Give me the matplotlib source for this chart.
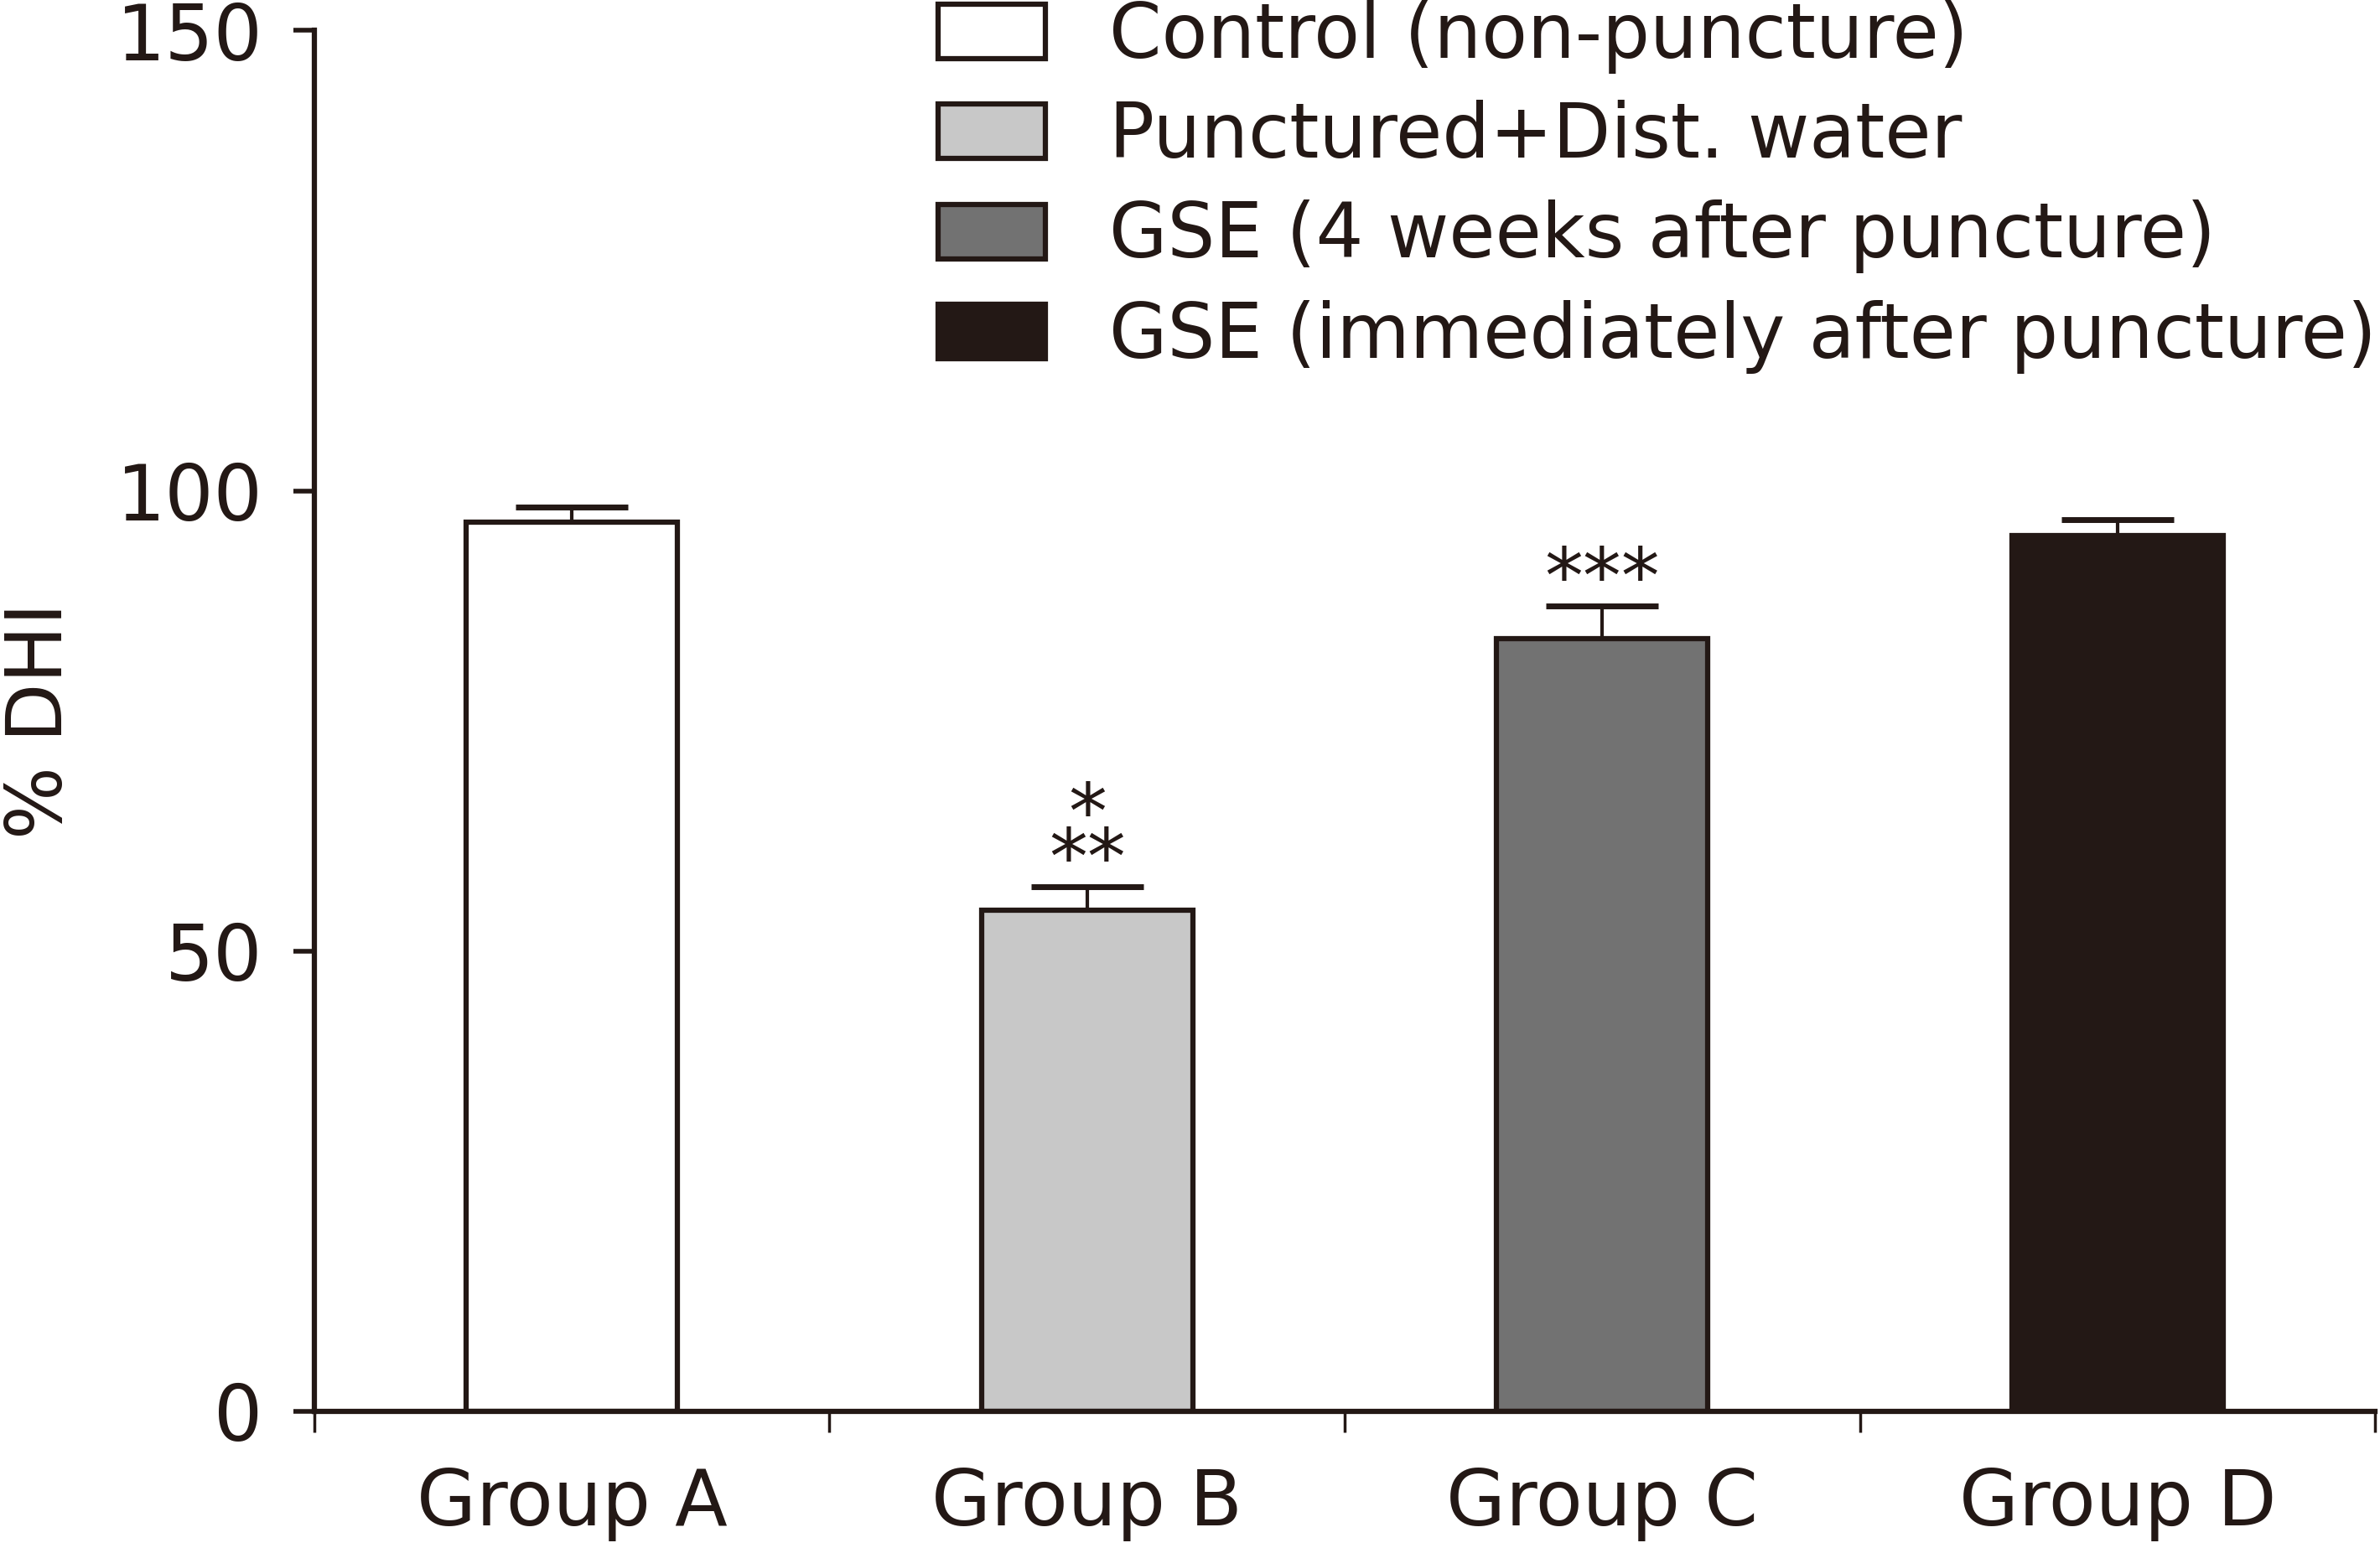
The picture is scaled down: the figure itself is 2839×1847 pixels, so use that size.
import matplotlib
matplotlib.use("Agg")
import matplotlib.pyplot as plt
from matplotlib.patches import Patch

# data
groups = ["Group A", "Group B", "Group C", "Group D"]
dhi_mean = [96.6, 54.4, 83.9, 95.1]
dhi_sem = [1.6, 2.6, 3.6, 1.8]
legend_labels = ["Control (non-puncture)", "Punctured+Dist. water",
                 "GSE (4 weeks after puncture)", "GSE (immediately after puncture)"]
stars = ["", "*\n**", "***", ""]

ink = "#231815"
fills = ["#ffffff", "#c8c8c8", "#727272", ink]

plt.rcParams['font.family'] = ['DejaVu Sans']
fs = 66

fig = plt.figure(figsize=(28.39, 18.47), dpi=100)
ax = fig.add_axes([0.132, 0.0883, 0.866, 0.892])

x = list(range(len(groups)))
ax.bar(x, dhi_mean, width=0.41, color=fills, edgecolor=ink, linewidth=4.5, zorder=2)
ax.errorbar(x, dhi_mean, yerr=[[0] * 4, dhi_sem], fmt="none", ecolor=ink,
            elinewidth=3, capsize=48, capthick=5, zorder=1)

for xi, m, e, s in zip(x, dhi_mean, dhi_sem, stars):
    if s:
        ax.text(xi, m + e - 1.5, s, ha="center", va="bottom", fontsize=fs,
                color=ink, linespacing=0.5)

ax.set_xlim(-0.5, 3.5)
ax.set_ylim(0, 150)
ax.set_yticks([0, 50, 100, 150])
ax.set_xticks([-0.5, 0.5, 1.5, 2.5, 3.5])
ax.set_xticklabels([])
ax.set_xticks(x, minor=True)
ax.set_xticklabels(groups, minor=True)
ax.tick_params(axis="x", which="minor", length=0, pad=47, labelsize=fs, colors=ink)
ax.tick_params(axis="x", which="major", length=18, width=2.5, color=ink)
ax.tick_params(axis="y", length=18, width=4, color=ink, labelsize=fs, labelcolor=ink, pad=26)

for side in ["top", "right"]:
    ax.spines[side].set_visible(False)
for side in ["left", "bottom"]:
    ax.spines[side].set_linewidth(4.5)
    ax.spines[side].set_color(ink)
ax.spines["bottom"].set_zorder(3)

ax.set_ylabel("% DHI", fontsize=fs, color=ink, labelpad=33)

handles = [Patch(facecolor=f, edgecolor=ink, linewidth=4.5) for f in fills]
fig.legend(handles, legend_labels, loc="upper left", bbox_to_anchor=(0.391, 1.005),
           frameon=False, fontsize=64.5, handlelength=1.43, handleheight=0.74,
           handletextpad=0.85, labelspacing=0.35, borderpad=0.1, borderaxespad=0,
           labelcolor=ink)

fig.savefig("out.png", dpi=100, facecolor="white")
